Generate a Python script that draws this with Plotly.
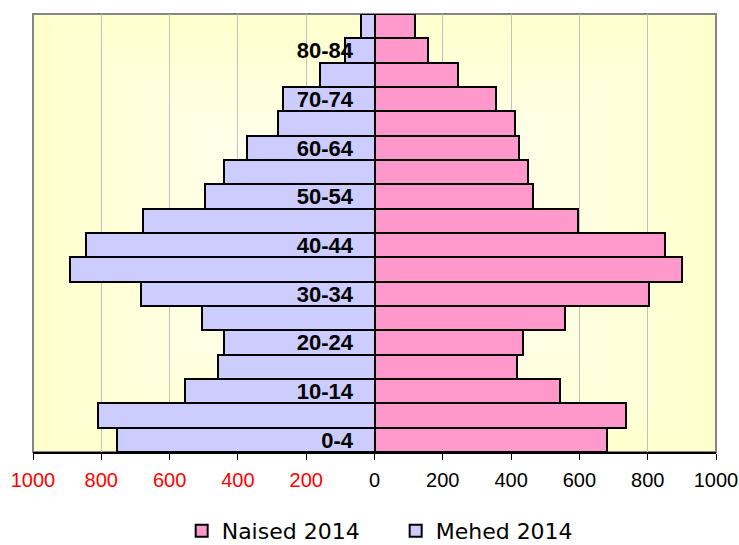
import base64
import struct
import zlib

import plotly.graph_objects as go

# age groups, bottom to top
age_groups = ['0-4', '5-9', '10-14', '15-19', '20-24', '25-29', '30-34', '35-39',
              '40-44', '45-49', '50-54', '55-59', '60-64', '65-69', '70-74',
              '75-79', '80-84', '85+']
mehed_2014 = [754, 811, 556, 457, 442, 504, 684, 893, 846, 678, 496, 440,
              372, 284, 268, 159, 86, 39]
naised_2014 = [681, 736, 544, 416, 436, 559, 805, 901, 851, 597, 463, 450,
               422, 410, 355, 245, 156, 119]
shown_labels = ['0-4', '10-14', '20-24', '30-34', '40-44', '50-54', '60-64',
                '70-74', '80-84']
x_ticks = [-1000, -800, -600, -400, -200, 0, 200, 400, 600, 800, 1000]

MALE = '#CCCCFF'
FEMALE = '#FF99CC'
SANS = 'Liberation Sans, Arial, sans-serif'


def gradient_png(w=160, h=100):
    # white centre fading out to pale yellow at the edges
    raw = bytearray()
    for j in range(h):
        raw.append(0)
        dy = abs((j + 0.5) / h - 0.5) * 2
        for i in range(w):
            dx = abs((i + 0.5) / w - 0.5) * 2
            t = min(1.0, max(dx, dy))
            raw += bytes([255, 255, int(round(255 - 51 * t))])

    def chunk(tag, data):
        c = struct.pack('>I', len(data)) + tag + data
        return c + struct.pack('>I', zlib.crc32(tag + data) & 0xffffffff)

    png = b'\x89PNG\r\n\x1a\n'
    png += chunk(b'IHDR', struct.pack('>IIBBBBB', w, h, 8, 2, 0, 0, 0))
    png += chunk(b'IDAT', zlib.compress(bytes(raw), 9))
    png += chunk(b'IEND', b'')
    return 'data:image/png;base64,' + base64.b64encode(png).decode()


tick_text = []
for v in x_ticks:
    if v < 0:
        tick_text.append(f'<span style="color:#FF0000">{abs(v)}</span>')
    else:
        tick_text.append(str(v))

fig = go.Figure()

fig.add_trace(go.Bar(
    y=age_groups,
    x=naised_2014,
    orientation='h',
    name='Naised 2014',
    marker=dict(color=FEMALE, line=dict(color='black', width=2)),
    hovertemplate='%{y}: %{x}<extra>Naised 2014</extra>'
))

fig.add_trace(go.Bar(
    y=age_groups,
    x=[-v for v in mehed_2014],
    orientation='h',
    name='Mehed 2014',
    marker=dict(color=MALE, line=dict(color='black', width=2)),
    customdata=mehed_2014,
    hovertemplate='%{y}: %{customdata}<extra>Mehed 2014</extra>'
))

fig.update_layout(
    width=739,
    height=545,
    margin=dict(l=33, r=23, t=14, b=93, autoexpand=False),
    paper_bgcolor='white',
    plot_bgcolor='#FFFFCC',
    barmode='overlay',
    bargap=0,
    font=dict(family=SANS, color='black'),
    xaxis=dict(
        range=[-1000, 1000],
        tickvals=x_ticks,
        ticktext=tick_text,
        tickfont=dict(size=20, family=SANS, color='black'),
        ticks='outside',
        ticklen=6,
        tickwidth=1,
        tickcolor='black',
        ticklabelstandoff=3,
        showline=True,
        linecolor='black',
        linewidth=2,
        showgrid=True,
        gridcolor='#C0C0C0',
        gridwidth=1,
        zeroline=False,
        automargin=False,
        fixedrange=True
    ),
    yaxis=dict(
        type='category',
        categoryorder='array',
        categoryarray=age_groups,
        tickvals=shown_labels,
        ticktext=shown_labels,
        tickfont=dict(size=22, family=SANS, color='black', weight='bold'),
        anchor='free',
        position=0.5,
        ticks='',
        ticklabelstandoff=16,
        showline=True,
        linecolor='black',
        linewidth=2,
        showgrid=False,
        zeroline=False,
        automargin=False,
        fixedrange=True
    ),
    legend=dict(
        orientation='h',
        x=0.531,
        xanchor='center',
        y=-0.18,
        yanchor='middle',
        entrywidth=169,
        font=dict(size=22, family='Verdana, DejaVu Sans, sans-serif'),
        traceorder='normal'
    ),
    images=[dict(
        source=gradient_png(),
        xref='paper', yref='paper',
        x=0, y=1, sizex=1, sizey=1,
        xanchor='left', yanchor='top',
        sizing='stretch',
        layer='below'
    )],
    shapes=[dict(
        type='rect', xref='paper', yref='paper',
        x0=0, x1=1, y0=0, y1=1,
        line=dict(color='#858585', width=2),
        layer='below'
    )]
)

# drop the default page margin so the figure sits at the window corner
fig.write_html('out.html', config={'displayModeBar': False},
               post_script="document.body.style.margin='0';")
